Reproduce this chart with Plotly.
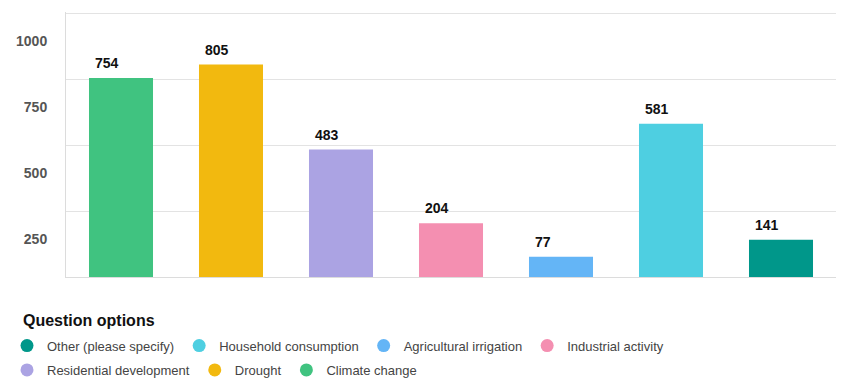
import plotly.graph_objects as go

categories = ["Climate change", "Drought", "Residential development", "Industrial activity",
              "Agricultural irrigation", "Household consumption", "Other (please specify)"]
values = [754, 805, 483, 204, 77, 581, 141]
colors = ["#40c380", "#f2b90f", "#aba3e3", "#f48fb1", "#64b5f6", "#4ecfe1", "#00978a"]
y_ticks = [250, 500, 750, 1000]
y_tick_labels = ["250", "500", "750", "1000"]
legend_title = "Question options"
legend_row1 = ["Other (please specify)", "Household consumption", "Agricultural irrigation", "Industrial activity"]
legend_row2 = ["Residential development", "Drought", "Climate change"]

FONT = "Liberation Sans, Arial, sans-serif"
color_of = dict(zip(categories, colors))

# page body has an 8px default margin, so the figure is drawn 8px in from the window edge
W, H = 842, 383
ML, MR, MT, MB = 58, 14, 4, 114
PW = W - ML - MR
PH = H - MT - MB

fig = go.Figure()
for cat, val, col in zip(categories, values, colors):
    fig.add_trace(go.Bar(x=[cat], y=[val], marker=dict(color=col, line=dict(width=0)),
                         showlegend=False, hoverinfo="x+y", name=cat))

for names, lg in ((legend_row1, "legend"), (legend_row2, "legend2")):
    for name in names:
        fig.add_trace(go.Scatter(x=[name], y=[None], mode="markers", name=name,
                                 marker=dict(color=color_of[name], size=13, symbol="circle"),
                                 legend=lg, showlegend=True))

for cat, val in zip(categories, values):
    fig.add_annotation(x=cat, y=val, text=f"<b>{val}</b>", showarrow=False,
                       xanchor="left", yanchor="bottom", xshift=-28, yshift=5,
                       font=dict(family=FONT, size=14, color="#111111"))

fig.add_annotation(xref="paper", yref="paper", x=(13 - ML) / PW, y=(PH + MT - 312) / PH,
                   xanchor="left", yanchor="middle", showarrow=False,
                   text=f"<b>{legend_title}</b>",
                   font=dict(family=FONT, size=16, color="#111111"))

fig.update_layout(
    width=W, height=H,
    margin=dict(l=ML, r=MR, t=MT, b=MB, autoexpand=False),
    paper_bgcolor="white", plot_bgcolor="white",
    font=dict(family=FONT, color="#444444"),
    bargap=0.418,
    showlegend=True,
    legend=dict(orientation="h", xref="paper", yref="paper",
                x=(-1 - ML) / PW, y=-0.2025, xanchor="left", yanchor="top",
                font=dict(family=FONT, size=13, color="#444444"),
                traceorder="normal", bgcolor="rgba(0,0,0,0)"),
    legend2=dict(orientation="h", xref="paper", yref="paper",
                 x=(-1 - ML) / PW, y=-0.2944, xanchor="left", yanchor="top",
                 font=dict(family=FONT, size=13, color="#444444"),
                 traceorder="normal", bgcolor="rgba(0,0,0,0)"),
    xaxis=dict(showticklabels=False, showgrid=False, showline=True, linecolor="#dcdcdc",
               linewidth=1, ticks="", zeroline=False, fixedrange=True, automargin=False),
    yaxis=dict(range=[0, 1004], tickvals=y_ticks, ticktext=y_tick_labels,
               showgrid=True, gridcolor="#e3e3e3", gridwidth=1,
               showline=True, linecolor="#dcdcdc", linewidth=1, ticks="",
               zeroline=False, ticklabelshift=28, ticklabelstandoff=15, automargin=False,
               tickfont=dict(family=FONT, size=14, color="#555555", weight="bold")),
)

fig.write_html("out.html")
